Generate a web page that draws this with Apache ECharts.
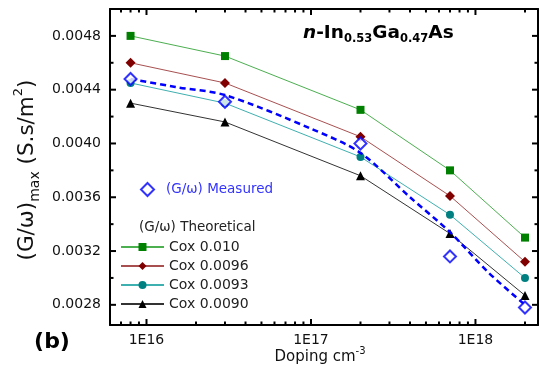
<!DOCTYPE html>
<html>
<head>
<meta charset="utf-8">
<script src="https://cdn.jsdelivr.net/npm/echarts@6/dist/echarts.min.js"></script>
<style>
  html, body { margin: 0; padding: 0; background: #fff; }
  #chart { width: 540px; height: 372px; }
</style>
</head>
<body>
<div id="chart"></div>
<script>
const FONT = '"DejaVu Sans", sans-serif'

// doping levels (cm^-3)
const doping = [8e15, 3e16, 2e17, 7e17, 2e18]

// (G/w)max theoretical, per Cox
const cox010 = [0.0048, 0.00465, 0.00425, 0.0038, 0.0033]
const cox0096 = [0.0046, 0.00445, 0.00405, 0.00361, 0.00312]
const cox0093 = [0.00445, 0.0043, 0.0039, 0.00347, 0.0030]
const cox0090 = [0.0043, 0.00416, 0.00376, 0.00333, 0.00287]

// measured points
const measured = [0.00448, 0.00431, 0.0040, 0.00316, 0.00278]

// dashed guide curve
const fitX = [8e15, 1.5e16, 3e16, 1e17, 2e17, 4e17, 7e17, 1.2e18, 2e18]
const fitY = [0.00448, 0.00442, 0.00436, 0.00411, 0.00393, 0.0036, 0.00334, 0.00304, 0.0028]

// ticks
const xMajor = [1e16, 1e17, 1e18]
const xMinor = [7e15, 8e15, 9e15]
for (const dec of [1e16, 1e17]) for (let m = 2; m <= 9; m++) xMinor.push(m * dec)
xMinor.push(2e18)
const yMajor = [0.0028, 0.0032, 0.0036, 0.004, 0.0044, 0.0048]
const yMinor = [0.003, 0.0034, 0.0038, 0.0042, 0.0046]

const pairs = (xs, ys) => xs.map((x, i) => [x, ys[i]])

const chart = echarts.init(document.getElementById('chart'), null, { renderer: 'canvas' })

const axisLine = { show: true, lineStyle: { color: '#000', width: 2 } }

function xAxis(position, labels) {
  return {
    type: 'log', logBase: 10, position, min: 6e15, max: 2.4e18,
    axisLine,
    axisTick: { show: false },
    axisLabel: labels ? {
      customValues: xMajor, color: '#111', fontSize: 14, fontFamily: FONT, margin: 8,
      formatter: v => '1E' + Math.round(Math.log10(v))
    } : { show: false },
    splitLine: { show: false }, minorTick: { show: false }
  }
}

function yAxis(position, labels) {
  return {
    type: 'value', position, min: 0.00265, max: 0.005,
    axisLine,
    axisTick: { show: false },
    axisLabel: labels ? {
      customValues: yMajor, color: '#111', fontSize: 14, fontFamily: FONT, margin: 9,
      formatter: v => v.toFixed(4)
    } : { show: false },
    splitLine: { show: false }
  }
}

function theory(name, ys, symbol, size, mark, line) {
  return {
    name, type: 'line', data: pairs(doping, ys),
    symbol, symbolSize: size,
    itemStyle: { color: mark },
    lineStyle: { color: line, width: 1 },
    z: 3
  }
}

// inside ticks on both opposite edges of the grid
function tickLine(x1, y1, x2, y2) {
  return { type: 'line', shape: { x1, y1, x2, y2 }, style: { stroke: '#000', lineWidth: 2 } }
}

function renderXTick(params, api) {
  const cs = params.coordSys
  const len = api.value(2)
  const px = api.coord([api.value(0), api.value(1)])[0]
  const b = cs.y + cs.height
  return { type: 'group', children: [tickLine(px, b, px, b - len), tickLine(px, cs.y, px, cs.y + len)] }
}

function renderYTick(params, api) {
  const cs = params.coordSys
  const len = api.value(2)
  const py = api.coord([api.value(0), api.value(1)])[1]
  const r = cs.x + cs.width
  return { type: 'group', children: [tickLine(cs.x, py, cs.x + len, py), tickLine(r, py, r - len, py)] }
}

chart.setOption({
  animation: false,
  backgroundColor: '#fff',
  grid: { left: 110, right: 2, top: 9, bottom: 47 },
  xAxis: [xAxis('bottom', true), xAxis('top', false)],
  yAxis: [yAxis('left', true), yAxis('right', false)],
  legend: [
    {
      data: ['(G/ω) Measured'], left: 135, top: 177,
      itemWidth: 13, itemHeight: 13,
      textStyle: { color: '#3333ff', fontSize: 13.5, fontFamily: FONT, padding: [0, 0, 0, 7] }
    },
    {
      data: ['Cox 0.010', 'Cox 0.0096', 'Cox 0.0093', 'Cox 0.0090'],
      orient: 'vertical', left: 115, top: 235,
      itemWidth: 43, itemHeight: 10, itemGap: 5,
      textStyle: { color: '#222', fontSize: 14, fontFamily: FONT }
    }
  ],
  graphic: [
    {
      type: 'text', left: 139, top: 220,
      style: { text: '(G/ω) Theoretical', fill: '#222', font: '13.5px ' + FONT }
    },
    {
      type: 'text', left: 303, top: 24,
      style: {
        text: '{i|n}{b|-In}{s|0.53}{b|Ga}{s|0.47}{b|As}',
        rich: {
          i: { fontSize: 18.5, fontWeight: 'bold', fontStyle: 'italic', fontFamily: FONT, fill: '#000', lineHeight: 24, verticalAlign: 'middle' },
          b: { fontSize: 18.5, fontWeight: 'bold', fontFamily: FONT, fill: '#000', lineHeight: 24, verticalAlign: 'middle' },
          s: { fontSize: 11.5, fontWeight: 'bold', fontFamily: FONT, fill: '#000', lineHeight: 24, verticalAlign: 'bottom' }
        }
      }
    },
    {
      type: 'text', x: 27, y: 170, rotation: Math.PI / 2,
      style: {
        text: '{m|(G/ω)}{s|max}{m| (S.s/m}{p|2}{m|)}',
        align: 'center', verticalAlign: 'middle',
        rich: {
          m: { fontSize: 21.5, fontFamily: FONT, fill: '#111', lineHeight: 30, verticalAlign: 'middle' },
          s: { fontSize: 14, fontFamily: FONT, fill: '#111', lineHeight: 30, verticalAlign: 'bottom' },
          p: { fontSize: 13, fontFamily: FONT, fill: '#111', lineHeight: 30, verticalAlign: 'top' }
        }
      }
    },
    {
      type: 'text', x: 320, y: 357,
      style: {
        text: '{m|Doping cm}{p|-3}',
        align: 'center', verticalAlign: 'middle',
        rich: {
          m: { fontSize: 15, fontFamily: FONT, fill: '#111', lineHeight: 22, verticalAlign: 'middle' },
          p: { fontSize: 10, fontFamily: FONT, fill: '#111', lineHeight: 22, verticalAlign: 'top' }
        }
      }
    },
    {
      type: 'text', x: 52, y: 342,
      style: { text: '(b)', align: 'center', verticalAlign: 'middle', fill: '#000', font: 'bold 22px ' + FONT }
    }
  ],
  series: [
    {
      type: 'custom', silent: true, renderItem: renderXTick, z: 10,
      data: xMajor.map(v => [v, 0.004, 6]).concat(xMinor.map(v => [v, 0.004, 3.5]))
    },
    {
      type: 'custom', silent: true, renderItem: renderYTick, z: 10,
      data: yMajor.map(v => [1e17, v, 6]).concat(yMinor.map(v => [1e17, v, 3.5]))
    },
    theory('Cox 0.010', cox010, 'rect', 8, '#008000', '#4caf50'),
    theory('Cox 0.0096', cox0096, 'diamond', 10, '#800000', '#a85050'),
    theory('Cox 0.0093', cox0093, 'circle', 8, '#008080', '#3fb0b0'),
    theory('Cox 0.0090', cox0090, 'triangle', 9, '#000', '#333'),
    {
      name: 'fit', type: 'line', data: pairs(fitX, fitY),
      smooth: 0.3, showSymbol: false, symbol: 'none',
      lineStyle: { color: '#0000ff', width: 2.5, type: [6, 4] },
      z: 4
    },
    {
      name: '(G/ω) Measured', type: 'scatter', data: pairs(doping, measured),
      symbol: 'emptyDiamond', symbolSize: 12,
      itemStyle: { color: '#0000ff', borderWidth: 2.5 },
      z: 5
    }
  ]
})
</script>
</body>
</html>
